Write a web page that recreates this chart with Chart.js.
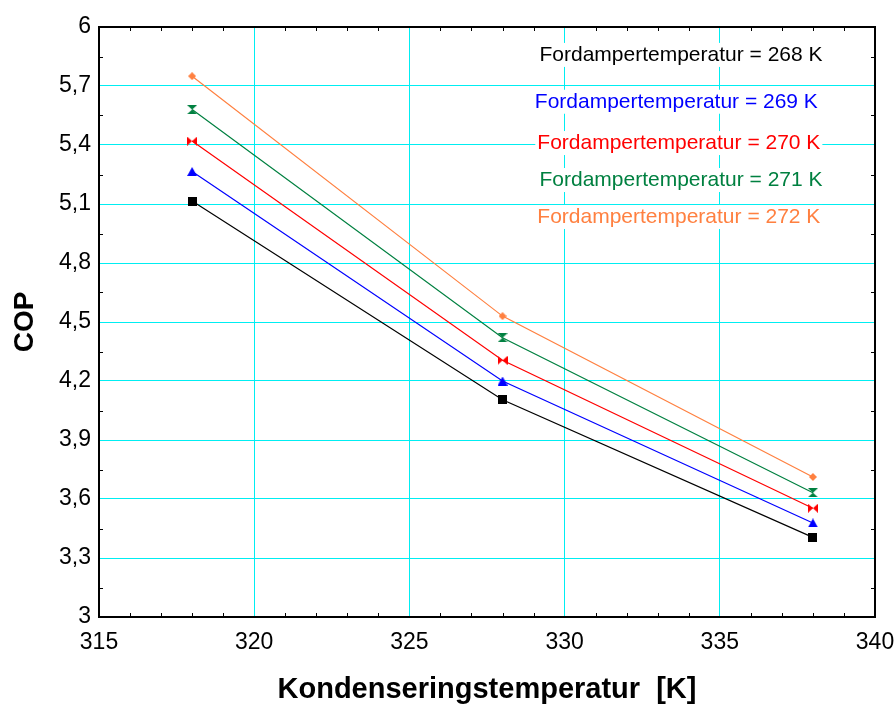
<!DOCTYPE html>
<html>
<head>
<meta charset="utf-8">
<script src="https://cdn.jsdelivr.net/npm/chart.js@4.4.1/dist/chart.umd.min.js"></script>
<style>
  html, body { margin: 0; padding: 0; background: #ffffff; }
  #wrap { width: 896px; height: 704px; }
</style>
</head>
<body>
<div id="wrap"><canvas id="c" width="896" height="704"></canvas></div>
<script>
// Condensing temperature [K] on the x axis
const condTemps = [318, 328, 338];
// Evaporator temperatures, one curve each
const evapTemps = [268, 269, 270, 271, 272];
// COP for each evaporator temperature
const cop268 = [5.115, 4.105, 3.405];
const cop269 = [5.265, 4.200, 3.478];
const cop270 = [5.420, 4.305, 3.553];
const cop271 = [5.580, 4.420, 3.632];
const cop272 = [5.750, 4.530, 3.712];
// Axis ticks
const xTicks = [315, 320, 325, 330, 335, 340];
const yTicks = [3, 3.3, 3.6, 3.9, 4.2, 4.5, 4.8, 5.1, 5.4, 5.7, 6];

const seriesValues = [cop268, cop269, cop270, cop271, cop272];
const seriesColors = ['#000000', '#0000ff', '#ff0000', '#008040', '#ff8040'];
const GRID = '#00eef2';
const FONT = '"Liberation Sans", Arial, sans-serif';

function markerCanvas(w, h, color, path) {
  const cv = document.createElement('canvas');
  cv.width = w; cv.height = h;
  const g = cv.getContext('2d');
  g.fillStyle = color;
  g.beginPath();
  path(g, w, h);
  g.closePath();
  g.fill();
  return cv;
}
const markers = [
  markerCanvas(9, 9, seriesColors[0], (g, w, h) => { g.rect(0, 0, w, h); }),
  markerCanvas(10, 9, seriesColors[1], (g, w, h) => { g.moveTo(w / 2, 0); g.lineTo(w, h); g.lineTo(0, h); }),
  markerCanvas(10, 9, seriesColors[2], (g, w, h) => {
    g.moveTo(0, 0); g.lineTo(w / 2, h / 2); g.lineTo(w, 0); g.lineTo(w, h); g.lineTo(w / 2, h / 2); g.lineTo(0, h);
  }),
  markerCanvas(10, 9, seriesColors[3], (g, w, h) => {
    g.moveTo(0, 0); g.lineTo(w, 0); g.lineTo(w / 2, h / 2); g.lineTo(w, h); g.lineTo(0, h); g.lineTo(w / 2, h / 2);
  }),
  markerCanvas(8, 8, seriesColors[4], (g, w, h) => { g.moveTo(w / 2, 0); g.lineTo(w, h / 2); g.lineTo(w / 2, h); g.lineTo(0, h / 2); })
];

const datasets = evapTemps.map((t, i) => ({
  label: 'Fordampertemperatur = ' + t + ' K',
  data: condTemps.map((x, j) => ({ x: x, y: seriesValues[i][j] })),
  borderColor: seriesColors[i],
  backgroundColor: seriesColors[i],
  borderWidth: 1.2,
  pointStyle: markers[i],
  pointRadius: 5,
  pointHoverRadius: 5,
  tension: 0
}));

const fmt = v => String(Math.round(v * 10) / 10).replace('.', ',');

// Plot frame with inward minor ticks on all four sides
const framePlugin = {
  id: 'frame',
  afterDatasetsDraw(chart) {
    const { ctx, chartArea: a, scales: { x, y } } = chart;
    ctx.save();
    ctx.strokeStyle = '#000000';
    ctx.lineWidth = 1;
    ctx.beginPath();
    for (let v = xTicks[0] + 1; v < xTicks[xTicks.length - 1]; v += 1) {
      if (v % 5 === 0) continue;
      const px = Math.round(x.getPixelForValue(v)) + 0.5;
      ctx.moveTo(px, a.bottom); ctx.lineTo(px, a.bottom - 4);
      ctx.moveTo(px, a.top); ctx.lineTo(px, a.top + 4);
    }
    for (let k = 0; k < yTicks.length - 1; k++) {
      const v = (yTicks[k] + yTicks[k + 1]) / 2;
      const py = Math.round(y.getPixelForValue(v)) + 0.5;
      ctx.moveTo(a.left, py); ctx.lineTo(a.left + 4, py);
      ctx.moveTo(a.right, py); ctx.lineTo(a.right - 4, py);
    }
    ctx.stroke();
    ctx.lineWidth = 2;
    ctx.strokeRect(a.left, a.top, a.right - a.left, a.bottom - a.top);
    ctx.restore();
  }
};

// Curve captions in the upper right, each on a white box
const captionPlugin = {
  id: 'captions',
  afterDraw(chart) {
    const { ctx, scales: { x, y } } = chart;
    const anchors = [
      [333.75, 5.858], [333.60, 5.620], [333.68, 5.410], [333.75, 5.222], [333.68, 5.034]
    ];
    ctx.save();
    ctx.font = '21px ' + FONT;
    ctx.textAlign = 'center';
    ctx.textBaseline = 'middle';
    evapTemps.forEach((t, i) => {
      const text = 'Fordampertemperatur = ' + t + ' K';
      const cx = x.getPixelForValue(anchors[i][0]);
      const cy = y.getPixelForValue(anchors[i][1]);
      const w = ctx.measureText(text).width;
      ctx.fillStyle = '#ffffff';
      ctx.fillRect(cx - w / 2 - 2, cy - 12, w + 4, 24);
      ctx.fillStyle = seriesColors[i];
      ctx.fillText(text, cx, cy);
    });
    ctx.restore();
  }
};

new Chart(document.getElementById('c'), {
  type: 'line',
  data: { datasets: datasets },
  plugins: [framePlugin, captionPlugin],
  options: {
    responsive: false,
    devicePixelRatio: 1,
    animation: false,
    layout: { padding: { top: 27, right: 21, left: 0, bottom: 0 } },
    plugins: { legend: { display: false }, tooltip: { enabled: false } },
    scales: {
      x: {
        type: 'linear',
        min: xTicks[0],
        max: xTicks[xTicks.length - 1],
        afterBuildTicks: s => { s.ticks = xTicks.map(v => ({ value: v })); },
        afterFit: s => { s.height = 87; s.paddingLeft = 0; s.paddingRight = 0; },
        grid: {
          drawTicks: false,
          color: c => (c.tick && (c.tick.value === xTicks[0] || c.tick.value === xTicks[xTicks.length - 1])) ? 'rgba(0,0,0,0)' : GRID,
          lineWidth: 1
        },
        border: { display: false },
        ticks: {
          color: '#000000',
          padding: 12,
          maxRotation: 0,
          font: { family: FONT, size: 23 },
          callback: v => String(v)
        },
        title: {
          display: true,
          text: 'Kondenseringstemperatur  [K]',
          color: '#000000',
          font: { family: FONT, size: 29, weight: 'bold', lineHeight: 1 },
          padding: { top: 0, bottom: 0 }
        }
      },
      y: {
        type: 'linear',
        min: yTicks[0],
        max: yTicks[yTicks.length - 1],
        afterBuildTicks: s => { s.ticks = yTicks.map(v => ({ value: v })); },
        afterFit: s => { s.width = 99; s.paddingTop = 0; s.paddingBottom = 0; },
        grid: {
          drawTicks: false,
          color: c => (c.tick && (c.tick.value === yTicks[0] || c.tick.value === yTicks[yTicks.length - 1])) ? 'rgba(0,0,0,0)' : GRID,
          lineWidth: 1
        },
        border: { display: false },
        ticks: {
          color: '#000000',
          padding: 8,
          font: { family: FONT, size: 23 },
          callback: v => fmt(v)
        },
        title: {
          display: true,
          text: 'COP',
          color: '#000000',
          font: { family: FONT, size: 28, weight: 'bold', lineHeight: 1 },
          padding: { top: 11, bottom: 0 }
        }
      }
    }
  }
});
</script>
</body>
</html>
